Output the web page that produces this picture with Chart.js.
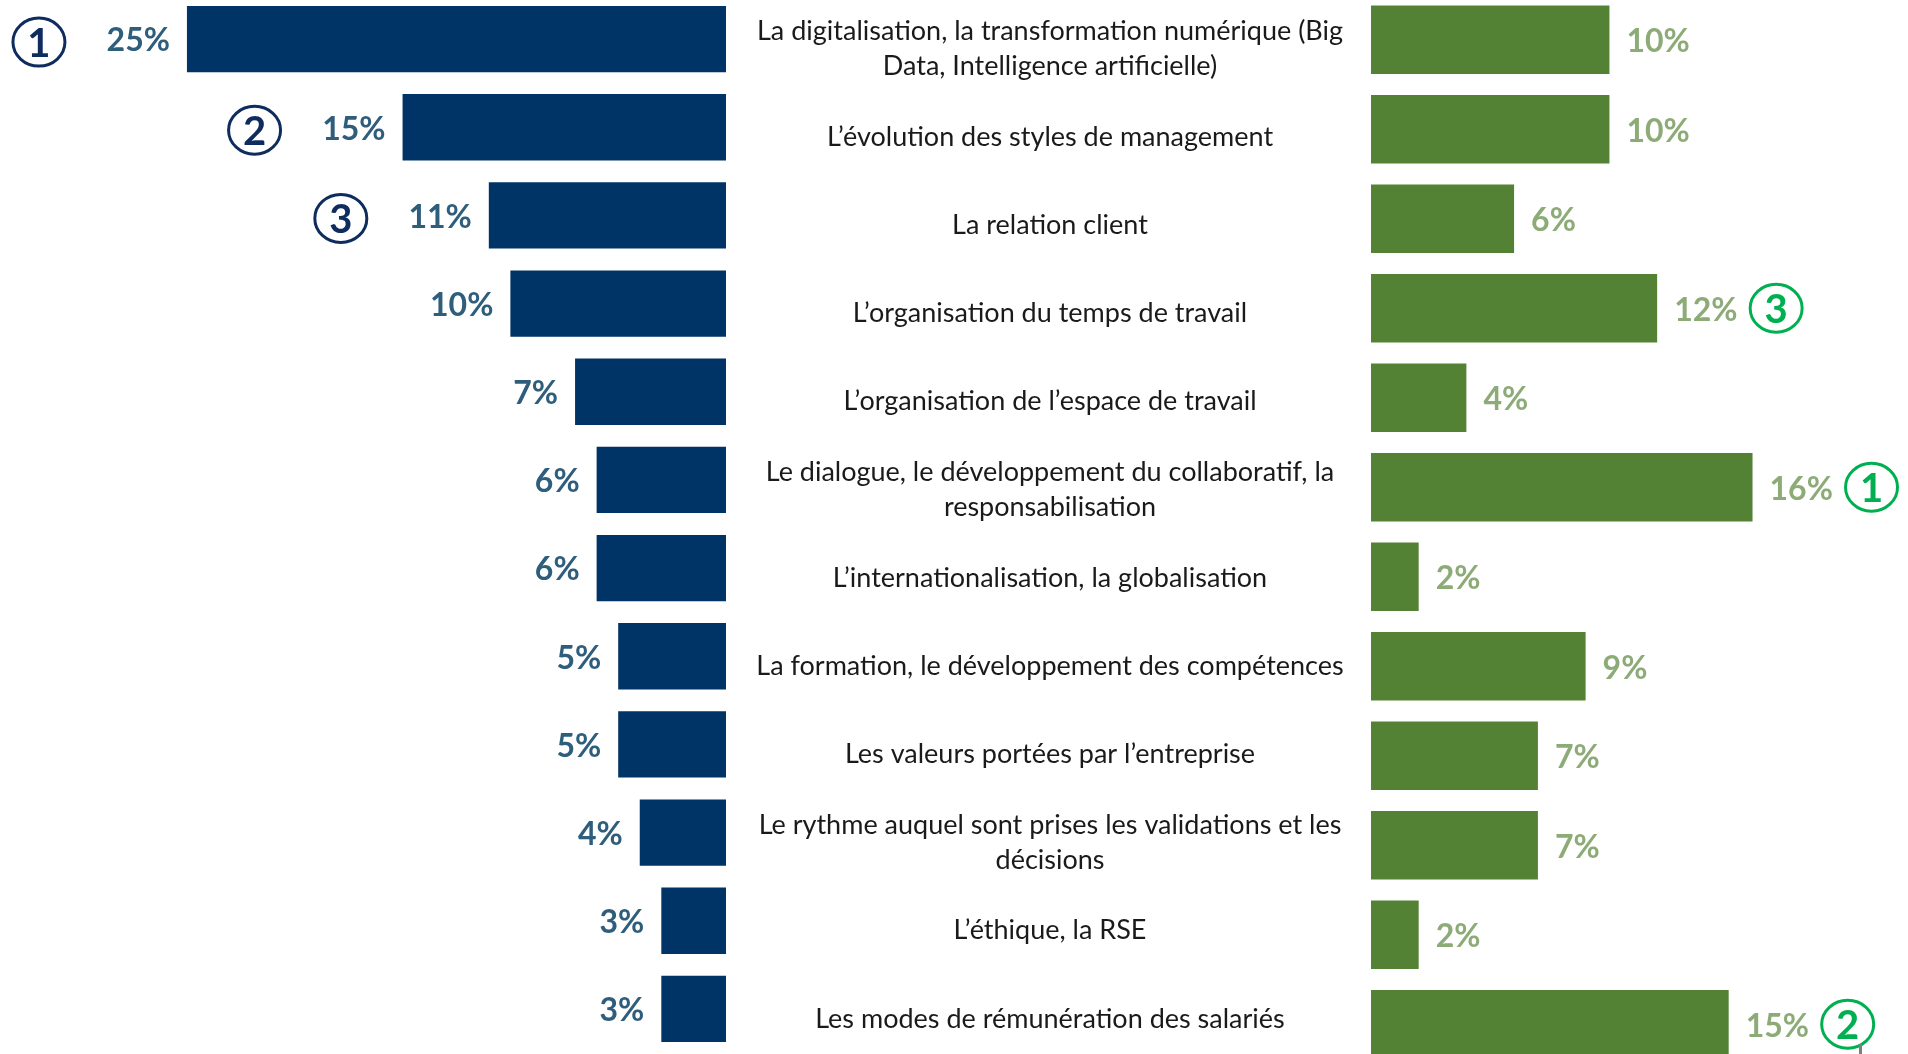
<!DOCTYPE html>
<html lang="fr">
<head>
<meta charset="utf-8">
<title>Leviers de transformation</title>
<script src="https://cdn.jsdelivr.net/npm/chart.js@4.4.1/dist/chart.umd.min.js"></script>
<style>
  html, body { margin: 0; padding: 0; background: #fff; overflow: hidden; }
  body { width: 1908px; height: 1054px; position: relative; }
  #leftWrap { position: absolute; left: 0; top: -5px; }
  #rightWrap { position: absolute; left: 1371px; top: -5px; }
  .mark { position: absolute; left: 1859px; top: 1044px; width: 3px; height: 10px; background: #7f7f7f; }
</style>
</head>
<body>
<div id="leftWrap"><canvas id="leftChart" width="1372" height="1058"></canvas></div>
<div id="rightWrap"><canvas id="rightChart" width="537" height="1074"></canvas></div>
<div class="mark"></div>
<script>
// data
const categories = [
  ['La digitalisation, la transformation numérique (Big', 'Data, Intelligence artificielle)'],
  'L’évolution des styles de management',
  'La relation client',
  'L’organisation du temps de travail',
  'L’organisation de l’espace de travail',
  ['Le dialogue, le développement du collaboratif, la', 'responsabilisation'],
  'L’internationalisation, la globalisation',
  'La formation, le développement des compétences',
  'Les valeurs portées par l’entreprise',
  ['Le rythme auquel sont prises les validations et les', 'décisions'],
  'L’éthique, la RSE',
  'Les modes de rémunération des salariés'
];
const leftValues  = [25, 15, 11, 10, 7, 6, 6, 5, 5, 4, 3, 3];
const rightValues = [10, 10, 6, 12, 4, 16, 2, 9, 7, 7, 2, 15];
const leftRanks  = [1, 2, 3, null, null, null, null, null, null, null, null, null];
const rightRanks = [null, null, null, 3, null, 1, null, null, null, null, null, 2];

const navy = '#003366';
const green = '#548235';
const FONT = 'Lato, "Open Sans", sans-serif';
const LABEL_SIZE = 27;

// value labels + rank circles drawn at the bar ends
const valueLabels = {
  id: 'valueLabels',
  afterDatasetsDraw(chart, args, opts) {
    const ctx = chart.ctx;
    const meta = chart.getDatasetMeta(0);
    const data = chart.data.datasets[0].data;
    ctx.save();
    ctx.textBaseline = 'middle';
    meta.data.forEach((bar, i) => {
      const dir = opts.side;
      ctx.font = 'bold 32px ' + FONT;
      ctx.fillStyle = opts.color;
      ctx.textAlign = dir < 0 ? 'right' : 'left';
      ctx.fillText(data[i] + '%', bar.x + dir * opts.gap, bar.y + 2);
      const r = opts.ranks[i];
      if (r) {
        const cx = bar.x + dir * opts.circleGap;
        const cy = bar.y + opts.circleDy;
        ctx.beginPath();
        ctx.ellipse(cx, cy, 26, 24, 0, 0, Math.PI * 2);
        ctx.lineWidth = 3;
        ctx.strokeStyle = opts.circleColor;
        ctx.stroke();
        ctx.font = 'bold 40px ' + FONT;
        ctx.fillStyle = opts.circleColor;
        ctx.textAlign = 'center';
        ctx.fillText(String(r), cx, cy + 2);
      }
    });
    ctx.restore();
  }
};

// center the category labels on x = 1050
const measure = document.createElement('canvas').getContext('2d');
measure.font = LABEL_SIZE + 'px ' + FONT;
let widest = 0;
categories.forEach(c => [].concat(c).forEach(l => { widest = Math.max(widest, measure.measureText(l).width); }));
const labelPad = Math.max(0, (1050 - 726) - widest / 2);

new Chart(document.getElementById('leftChart'), {
  type: 'bar',
  data: {
    labels: categories,
    datasets: [{ data: leftValues, backgroundColor: navy, categoryPercentage: 1, barPercentage: 0.752 }]
  },
  options: {
    indexAxis: 'y',
    responsive: false,
    animation: false,
    layout: { padding: 0 },
    plugins: {
      legend: { display: false },
      tooltip: { enabled: false },
      valueLabels: { side: -1, gap: 17, color: '#2F5D7C', ranks: leftRanks, circleGap: 148, circleDy: 3, circleColor: '#0E2D5E' }
    },
    scales: {
      x: { display: false, reverse: true, min: 0, max: 33.67 },
      y: {
        position: 'right',
        grid: { display: false, drawTicks: false },
        border: { display: false },
        afterFit(scale) {
          scale.width = 646;
          scale.paddingTop = 0;
          scale.paddingBottom = 0;
        },
        ticks: {
          crossAlign: 'center',
          padding: labelPad,
          labelOffset: 10,
          autoSkip: false,
          color: '#1a1a1a',
          font: { family: FONT, size: LABEL_SIZE, lineHeight: 1.3 }
        }
      }
    }
  },
  plugins: [valueLabels]
});

new Chart(document.getElementById('rightChart'), {
  type: 'bar',
  data: {
    labels: categories,
    datasets: [{ data: rightValues, backgroundColor: green, categoryPercentage: 1, barPercentage: 0.765 }]
  },
  options: {
    indexAxis: 'y',
    responsive: false,
    animation: false,
    layout: { padding: 0 },
    plugins: {
      legend: { display: false },
      tooltip: { enabled: false },
      valueLabels: { side: 1, gap: 17, color: '#8DAB77', ranks: rightRanks, circleGap: 119, circleDy: 0, circleColor: '#00B050' }
    },
    scales: {
      x: { display: false, min: 0, max: 22.52 },
      y: { display: false }
    }
  },
  plugins: [valueLabels]
});
</script>
</body>
</html>
